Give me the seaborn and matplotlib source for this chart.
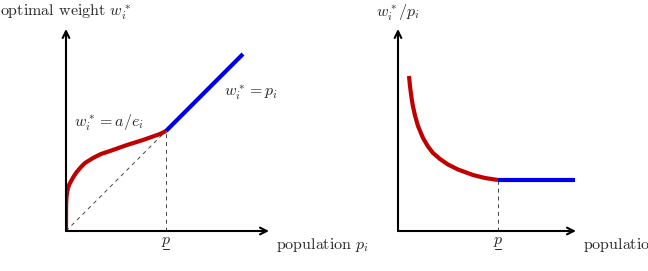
import matplotlib
matplotlib.use("Agg")
import matplotlib.pyplot as plt
import seaborn as sns

# ---- data (units: kink population p = 1) ----
left_red_x = [0.0, 0.001, 0.005, 0.012, 0.02, 0.035, 0.057, 0.08, 0.107, 0.15, 0.19, 0.27, 0.35, 0.44, 0.61, 0.77, 0.94, 1.0]
left_red_y = [0.0, 0.26, 0.34, 0.39, 0.43, 0.47, 0.51, 0.55, 0.59, 0.64, 0.68, 0.73, 0.77, 0.80, 0.86, 0.91, 0.97, 1.0]
left_blue_x = [1.0, 1.77]
left_blue_y = [1.0, 1.77]

right_red_x = [0.11, 0.12, 0.13, 0.14, 0.15, 0.17, 0.20, 0.25, 0.30, 0.35, 0.42, 0.50, 0.60, 0.75, 0.87, 1.0]
right_red_y = [1.55, 1.45, 1.37, 1.30, 1.245, 1.155, 1.05, 0.93, 0.845, 0.78, 0.72, 0.665, 0.615, 0.56, 0.53, 0.51]
right_blue_x = [1.0, 1.77]
right_blue_y = [0.51, 0.51]

kink_x = 1.0
left_kink_y = 1.0
right_kink_y = 0.51

sns.set_theme(style="white")
plt.rcParams["font.family"] = ["cmr10", "DejaVu Serif"]
plt.rcParams["mathtext.fontset"] = "cm"
plt.rcParams["axes.unicode_minus"] = False
plt.rcParams["axes.formatter.use_mathtext"] = True

W, H = 648, 271
fig = plt.figure(figsize=(W / 100, H / 100), dpi=100)

RED = "#C00000"
BLUE = "#0000F0"
FS = 11.5

def make_axes(ox, oy):
    ax = fig.add_axes([ox / W, (H - oy) / H, 220 / W, 200 / H])
    ax.set_xlim(0, 2.2)
    ax.set_ylim(0, 2.0)
    ax.set_axis_off()
    arrow = dict(arrowstyle="->", lw=1.5, color="black", shrinkA=0, shrinkB=0)
    return ax, arrow

def underlined_p(ax, x):
    ax.text(x, -0.11, r"$p$", ha="center", va="center", fontsize=FS, clip_on=False)
    ax.plot([x - 0.032, x + 0.028], [-0.18, -0.18], lw=0.7, color="#222222", clip_on=False)

# ---- left panel ----
ax1, arrow = make_axes(66, 231)
ax1.annotate("", xy=(2.03, 0), xytext=(0, 0), arrowprops=arrow, annotation_clip=False)
ax1.annotate("", xy=(0, 2.02), xytext=(0, 0), arrowprops=arrow, annotation_clip=False)
ax1.plot([0, kink_x], [0, left_kink_y], ls=(0, (4, 4)), lw=0.7, color="#444444")
ax1.plot([kink_x, kink_x], [0, left_kink_y], ls=(0, (4, 4)), lw=0.7, color="#444444")
sns.lineplot(x=left_red_x, y=left_red_y, ax=ax1, color=RED, lw=3, sort=False,
             solid_capstyle="butt", solid_joinstyle="round", estimator=None)
sns.lineplot(x=left_blue_x, y=left_blue_y, ax=ax1, color=BLUE, lw=3, sort=False,
             solid_capstyle="butt", estimator=None)
ax1.set_axis_off()
ax1.text(0.0, 2.19, r"optimal weight $w_i^*$", ha="center", va="center", fontsize=FS, clip_on=False)
underlined_p(ax1, kink_x)
ax1.text(2.10, -0.14, r"population $p_i$", ha="left", va="center", fontsize=FS, clip_on=False)
ax1.text(0.43, 1.08, r"$w_i^* = a/e_i$", ha="center", va="center", fontsize=FS)
ax1.text(1.855, 1.39, r"$w_i^* = p_i$", ha="center", va="center", fontsize=FS)

# ---- right panel ----
ax2, arrow = make_axes(398, 231)
ax2.annotate("", xy=(1.78, 0), xytext=(0, 0), arrowprops=arrow, annotation_clip=False)
ax2.annotate("", xy=(0, 2.02), xytext=(0, 0), arrowprops=arrow, annotation_clip=False)
ax2.plot([kink_x, kink_x], [0, right_kink_y], ls=(0, (4, 4)), lw=0.7, color="#444444")
sns.lineplot(x=right_red_x, y=right_red_y, ax=ax2, color=RED, lw=3, sort=False,
             solid_capstyle="butt", solid_joinstyle="round", estimator=None)
sns.lineplot(x=right_blue_x, y=right_blue_y, ax=ax2, color=BLUE, lw=3, sort=False,
             solid_capstyle="butt", estimator=None)
ax2.set_axis_off()
ax2.text(0.005, 2.18, r"$w_i^*/p_i$", ha="center", va="center", fontsize=FS, clip_on=False)
underlined_p(ax2, kink_x)
ax2.text(1.85, -0.14, r"population $p_i$", ha="left", va="center", fontsize=FS, clip_on=False)

fig.savefig("out.png", dpi=100, facecolor="white")
